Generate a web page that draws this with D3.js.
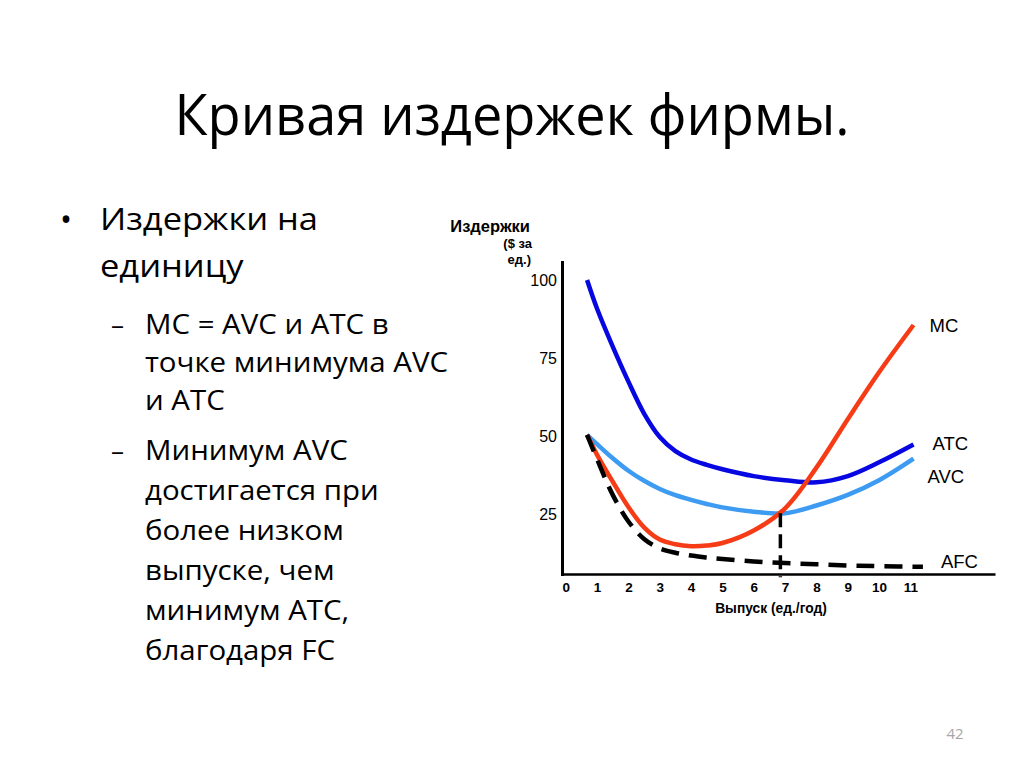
<!DOCTYPE html>
<html><head><meta charset="utf-8">
<script src="https://cdn.jsdelivr.net/npm/d3@7/dist/d3.min.js"></script>
<style>body{margin:0;background:#fff}svg{display:block}</style>
</head><body>
<svg id="c" width="1024" height="767"></svg>
<script>
// ---- text content ----
const title = "Кривая издержек фирмы.";
const bulletLines = ["Издержки на", "единицу"];
const sub1Lines = ["МС = AVC и АТС в", "точке минимума AVC", "и АТС"];
const sub2Lines = ["Минимум AVC", "достигается при", "более низком", "выпуске, чем", "минимум АТС,", "благодаря FC"];
const pageNumber = "42";

// ---- chart data (output units, $ per unit) ----
const output    = [0.68, 1, 1.5, 2, 2.5, 3, 3.5, 4, 4.5, 5, 6, 7, 8, 9, 10, 11.1];
const atc       = [100, 90.8, 78.7, 67.5, 57.3, 49.8, 45.3, 42.6, 40.9, 39.5, 37.3, 36.0, 35.3, 37.3, 41.7, 47.4];
const avc       = [50.5, 47.5, 43.0, 39.0, 35.8, 33.2, 31.2, 29.7, 28.4, 27.3, 25.9, 25.4, 27.9, 31.3, 36.0, 42.9];
const mc        = [50.5, 44.1, 35.5, 27.4, 20.9, 17.0, 15.5, 14.9, 15.1, 15.9, 19.9, 27.0, 40.0, 55.5, 70.5, 85.6];
const outputAFC = [0.68, 1, 1.5, 2, 2.5, 3, 3.5, 4, 4.5, 5, 6, 7, 8, 9, 10, 11.4];
const afc       = [50.5, 42.7, 31.3, 22.8, 17.2, 14.2, 12.8, 11.9, 11.3, 10.8, 10.0, 9.5, 9.1, 8.7, 8.5, 8.3];
const avcMinOutput = 6.85;
const avcMinCost = 25.4;
const xTicks = [0, 1, 2, 3, 4, 5, 6, 7, 8, 9, 10, 11];
const yTicks = [25, 50, 75, 100];
const yTitleLines = ["Издержки", "($ за", "ед.)"];
const xTitle = "Выпуск (ед./год)";
const seriesNames = ["MC", "ATC", "AVC", "AFC"];

// ---- drawing ----
const svg = d3.select("#c");
svg.append("rect").attr("width", 1024).attr("height", 767).attr("fill", "#fff");

const bodyFont = "'Open Sans', 'Noto Sans', sans-serif";
const chartFont = "'Liberation Sans', Arial, sans-serif";

function fitGroup(sel, refIndex, refWidth) {
  const nodes = sel.nodes();
  const k = refWidth / nodes[refIndex].getComputedTextLength();
  nodes.forEach(n => {
    const w = n.getComputedTextLength();
    d3.select(n).attr("textLength", w * k).attr("lengthAdjust", "spacingAndGlyphs");
  });
  return k;
}

// title
const t = svg.append("text").attr("x", 512).attr("y", 135).attr("text-anchor", "middle")
  .attr("font-family", bodyFont).attr("font-size", 56).attr("fill", "#000").text(title);
fitGroup(t, 0, 675);

// bullet level 1
svg.append("text").attr("x", 60).attr("y", 231).attr("font-family", bodyFont)
  .attr("font-size", 32).text("•");
const l1 = svg.selectAll("text.l1").data(bulletLines).join("text").attr("class", "l1")
  .attr("x", 100).attr("y", (d, i) => 230 + i * 47)
  .attr("font-family", bodyFont).attr("font-size", 31).attr("fill", "#000").text(d => d);
fitGroup(l1, 0, 218);

// level 2
const dashes = [334, 460];
svg.selectAll("text.dash").data(dashes).join("text").attr("class", "dash")
  .attr("x", 111).attr("y", d => d).attr("font-family", bodyFont).attr("font-size", 26).text("–");
const s1 = svg.selectAll("text.s1").data(sub1Lines).join("text").attr("class", "s1")
  .attr("x", 145).attr("y", (d, i) => 334 + i * 38)
  .attr("font-family", bodyFont).attr("font-size", 26.5).attr("fill", "#000").text(d => d);
const s2 = svg.selectAll("text.s2").data(sub2Lines).join("text").attr("class", "s2")
  .attr("x", 145).attr("y", (d, i) => 460 + i * 40)
  .attr("font-family", bodyFont).attr("font-size", 26.5).attr("fill", "#000").text(d => d);
const k2 = fitGroup(s1, 1, 303);
s2.each(function () {
  const w = this.getComputedTextLength();
  d3.select(this).attr("textLength", w * k2).attr("lengthAdjust", "spacingAndGlyphs");
});

// page number
svg.append("text").attr("x", 955).attr("y", 739).attr("text-anchor", "middle")
  .attr("font-family", bodyFont).attr("font-size", 15).attr("fill", "#a6a6a6").text(pageNumber);

// ---- chart ----
const x = d3.scaleLinear().domain([-0.12, 13.7]).range([562, 995]);
const y = d3.scaleLinear().domain([6, 105.75]).range([574, 262]);

const xAxis = svg.append("g").attr("transform", `translate(0,${y(6)})`)
  .call(d3.axisBottom(x).tickValues(xTicks).tickSize(0).tickSizeOuter(0).tickPadding(8))
  .attr("font-family", chartFont).attr("font-size", 13.5).attr("font-weight", "bold");
xAxis.select(".domain").attr("stroke", "#000").attr("stroke-width", 2.6);
xAxis.selectAll("text").attr("fill", "#000");

const yAxis = svg.append("g").attr("transform", `translate(${x(-0.12)},0)`)
  .call(d3.axisLeft(y).tickValues(yTicks).tickSize(0).tickSizeOuter(0).tickPadding(5))
  .attr("font-family", chartFont).attr("font-size", 16);
yAxis.select(".domain").attr("stroke", "#000").attr("stroke-width", 3).attr("stroke-linecap", "square");
yAxis.selectAll("text").attr("fill", "#000");

// axis titles
svg.append("text").attr("x", 530).attr("y", 232).attr("text-anchor", "end")
  .attr("font-family", chartFont).attr("font-size", 16.5).attr("font-weight", "bold").text(yTitleLines[0]);
svg.append("text").attr("x", 532).attr("y", 248).attr("text-anchor", "end")
  .attr("font-family", chartFont).attr("font-size", 13).attr("font-weight", "bold").text(yTitleLines[1]);
svg.append("text").attr("x", 531).attr("y", 264).attr("text-anchor", "end")
  .attr("font-family", chartFont).attr("font-size", 13).attr("font-weight", "bold").text(yTitleLines[2]);
svg.append("text").attr("x", 771).attr("y", 613).attr("text-anchor", "middle")
  .attr("font-family", chartFont).attr("font-size", 13.8).attr("font-weight", "bold").text(xTitle);

const line = d3.line().x(d => x(d[0])).y(d => y(d[1])).curve(d3.curveCatmullRom.alpha(0.5));
const zip = (xs, ys) => xs.map((v, i) => [v, ys[i]]);

const series = [
  { name: seriesNames[1], pts: zip(output, atc), color: "#0707e2", dash: null, dx: 19, dy: 5 },
  { name: seriesNames[2], pts: zip(output, avc), color: "#3d9bf2", dash: null, dx: 14, dy: 24 },
  { name: seriesNames[0], pts: zip(output, mc), color: "#f63c16", dash: null, dx: 16, dy: 7 },
  { name: seriesNames[3], pts: zip(outputAFC, afc), color: "#000", dash: "18,10", dx: 18, dy: 1 }
];

series.forEach(s => {
  svg.append("path").attr("d", line(s.pts)).attr("fill", "none")
    .attr("stroke", s.color).attr("stroke-width", 4.5)
    .attr("stroke-dasharray", s.dash);
  const last = s.pts[s.pts.length - 1];
  svg.append("text").attr("x", x(last[0]) + s.dx).attr("y", y(last[1]) + s.dy)
    .attr("font-family", chartFont).attr("font-size", 18.5).attr("fill", "#000").text(s.name);
});

// dashed drop line at AVC minimum
svg.append("line")
  .attr("x1", x(avcMinOutput)).attr("x2", x(avcMinOutput))
  .attr("y1", y(avcMinCost)).attr("y2", y(5))
  .attr("stroke", "#000").attr("stroke-width", 3.5).attr("stroke-dasharray", "14,7");
</script>
</body></html>
